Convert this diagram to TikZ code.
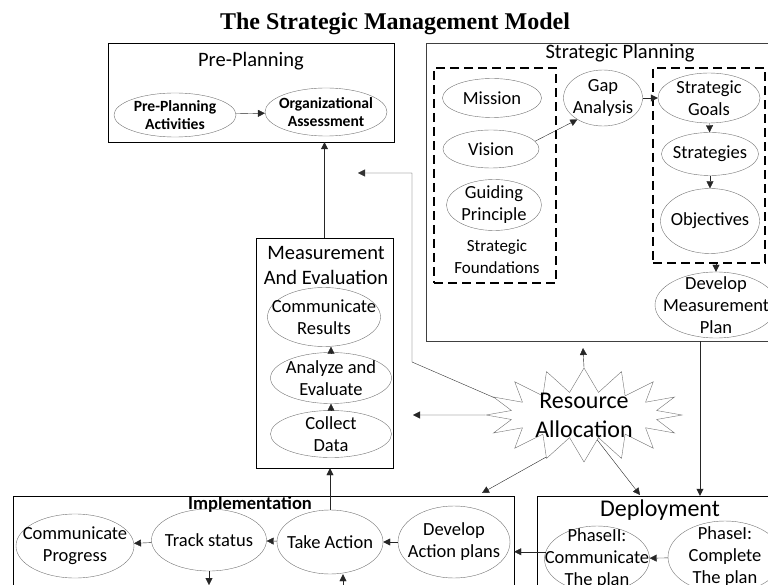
\documentclass[tikz,border=0pt]{standalone}
\usepackage{fontspec}
\setmainfont{Carlito}
\newfontfamily\titlefont{Liberation Serif}
\usetikzlibrary{shapes.geometric,shapes.symbols,arrows.meta}

\begin{document}
\begin{tikzpicture}[x=1pt,y=-1pt]

      \tikzset{bubble/.style={draw=black!55, ellipse, inner xsep=-20pt, inner ysep=-30pt, align=center, font=\fontsize{18.5}{22}\selectfont},
               boldbubble/.style={bubble, font=\bfseries\fontsize{15.6}{18}\selectfont},
               frame/.style={draw, rectangle, inner sep=0pt},
               dashbox/.style={draw, rectangle, inner sep=0pt, line width=2.4pt, dash pattern=on 9pt off 5pt},
               heading/.style={align=center, font=\fontsize{20.5}{25}\selectfont},
               burst/.style={draw=black!55, starburst, starburst points=16, starburst point height=24pt, random starburst=0, inner xsep=0pt, inner ysep=-14pt, align=center, font=\fontsize{24}{29}\selectfont},
               arrow/.style={draw=black!85, -{Triangle[length=7pt,width=7pt]}}}
      \clip (0,0) rectangle (768,585);
      \node[font=\titlefont\bfseries\fontsize{24}{28}\selectfont] (title) at (395,24) {The Strategic Management Model};
%% Boxes
      	\node[frame, minimum width=286pt, minimum height=99pt] (prep) at (251,92.5) {};
      	\node[frame, draw=black!75, minimum width=394pt, minimum height=298pt] (splan) at (623,192) {};
      	\node[dashbox, minimum width=122pt, minimum height=215pt] (foundbox) at (495,175.5) {};
      	\node[dashbox, minimum width=112pt, minimum height=195pt] (goalsbox) at (709,165.5) {};
      	\node[frame, minimum width=137pt, minimum height=230pt] (meas) at (324.5,353) {};
      	\node[frame, minimum width=501pt, minimum height=144pt] (impl) at (263.5,568) {};
      	\node[frame, minimum width=326pt, minimum height=144pt] (deploy) at (700,568) {};
%% Headings
      	\node[heading] (preptitle) at (251,61) {Pre-Planning};
      	\node[heading] (splantitle) at (620,53) {Strategic Planning};
      	\node[heading] (meastitle) at (326,265) {Measurement\\And Evaluation};
      	\node[heading, font=\bfseries\fontsize{18.5}{22}\selectfont] (impltitle) at (250,504) {Implementation};
      	\node[heading, font=\fontsize{24}{29}\selectfont] (deploytitle) at (660,510) {Deployment};
      	\node[heading, font=\fontsize{17}{22}\selectfont] (sflabel) at (497,257) {Strategic\\Foundations};
%% Ellipses
      	\node[boldbubble, minimum width=122pt, minimum height=44pt] (ppact) at (175,115) {Pre-Planning\\Activities};
      	\node[boldbubble, minimum width=122pt, minimum height=48pt] (orgass) at (326,112) {Organizational\\Assessment};
      	\node[bubble, minimum width=99pt, minimum height=39pt] (mission) at (492,98) {Mission};
      	\node[bubble, minimum width=96pt, minimum height=38pt] (vision) at (491,149) {Vision};
      	\node[bubble, minimum width=95pt, minimum height=51pt] (guiding) at (494,205) {Guiding\\Principle};
      	\node[bubble, minimum width=79pt, minimum height=56pt] (gap) at (603,98) {Gap\\Analysis};
      	\node[bubble, minimum width=102pt, minimum height=50pt] (goals) at (709,98) {Strategic\\Goals};
      	\node[bubble, minimum width=97pt, minimum height=43pt] (strat) at (710,154) {Strategies};
      	\node[bubble, minimum width=99pt, minimum height=65pt] (object) at (710,221) {Objectives};
      	\node[bubble, minimum width=122pt, minimum height=66pt] (devmeas) at (716,305) {Develop\\Measurement\\Plan};
      	\node[bubble, minimum width=113pt, minimum height=59pt] (commres) at (324,317) {Communicate\\Results};
      	\node[bubble, minimum width=121pt, minimum height=51pt] (analyze) at (331,378) {Analyze and\\Evaluate};
      	\node[bubble, minimum width=121pt, minimum height=47pt] (collect) at (331,434) {Collect\\Data};
      	\node[bubble, minimum width=118pt, minimum height=64pt] (commprog) at (75,546) {Communicate\\Progress};
      	\node[bubble, minimum width=115pt, minimum height=62pt] (track) at (209,540) {Track status};
      	\node[bubble, minimum width=106pt, minimum height=64pt] (takeact) at (330,542) {Take Action};
      	\node[bubble, minimum width=112pt, minimum height=72pt] (devact) at (454,542) {Develop\\Action plans};
      	\node[bubble, minimum width=105pt, minimum height=66pt] (phase2) at (597,559) {PhaseII:\\Communicate\\The plan};
      	\node[bubble, minimum width=114pt, minimum height=72pt] (phase1) at (725,557) {PhaseI:\\Complete\\The plan};
      	\node[burst, minimum width=196pt, minimum height=94pt] (resalloc) at (584,415) {Resource\\Allocation};
%% Free ends
      	\coordinate (bend1) at (412,362);
      	\coordinate (bend2) at (412,173);
      	\coordinate (ppin) at (358,173);
      	\coordinate (measin) at (413,415);
      	\coordinate (spin) at (583,348);
      	\coordinate (implin) at (482,493);
      	\coordinate (deplin) at (640,495);
      	\coordinate (trackout) at (209,585);
      	\coordinate (takein) at (343,600);
%Edges
		\path (ppact) edge[arrow] (orgass);
		\path (vision.10) edge[arrow] (gap.-140);
		\path (gap) edge[arrow] (goals);
		\path (goals) edge[arrow] (strat);
		\path (strat) edge[arrow] (object);
		\path (goalsbox.south -| devmeas.north) edge[arrow] (devmeas.north);
		\path (collect) edge[arrow] (analyze);
		\path (analyze.north) edge[arrow] (analyze.north |- commres.south);
		\path (meas.north) edge[arrow] (meas.north |- prep.south);
		\path (takeact.north) edge[arrow] (takeact.north |- meas.south);
		\path (devact) edge[arrow] (takeact);
		\path (takeact) edge[arrow] (track);
		\path (track) edge[arrow] (commprog);
		\path (track.south) edge[arrow] (trackout);
		\path (takein) edge[arrow] (takeact.south -| takein);
		\path (phase1) edge[arrow] (phase2);
		\path (phase2.172) edge[arrow] (phase2.172 -| impl.east);
		\path (splan.south -| deploy.north) edge[arrow] (deploy.north);
		\path (resalloc.90) edge[arrow] (spin);
		\path (resalloc.180) edge[arrow] (measin);
		\path (resalloc.-132) edge[arrow] (implin);
		\path (resalloc.-62) edge[arrow] (deplin);
		\draw[arrow, draw=black!80] (resalloc.169) -- (bend1) -- (bend2) -- (ppin);

	\end{tikzpicture}
\end{document}
